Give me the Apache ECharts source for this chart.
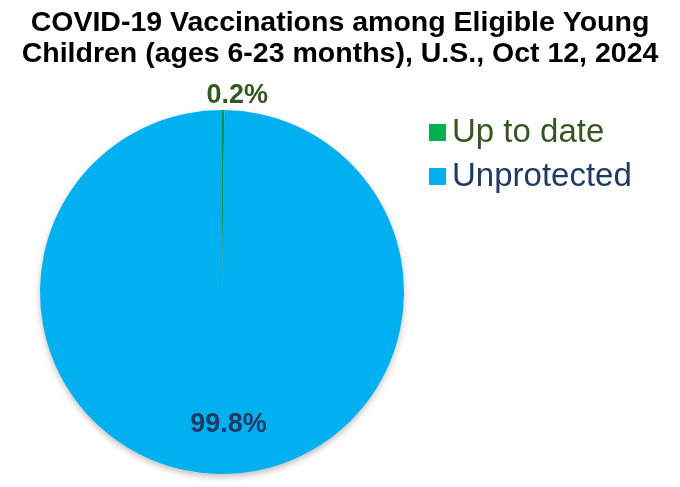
<!DOCTYPE html>
<html><head><meta charset="utf-8">
<script src="https://cdn.jsdelivr.net/npm/echarts@6/dist/echarts.min.js"></script>
<style>html,body{margin:0;padding:0;background:#fff}#c{width:680px;height:487px}</style>
</head><body><div id="c"></div>
<script>
var titleLines = ['COVID-19 Vaccinations among Eligible Young', 'Children (ages 6-23 months), U.S., Oct 12, 2024'];
var categories = ['Up to date', 'Unprotected'];
var values = [0.2, 99.8];
var sliceColors = ['#00B050', '#00B0F0'];
var textColors = ['#375623', '#1F3B63'];

var chart = echarts.init(document.getElementById('c'));
chart.setOption({
  animation: false,
  title: {
    text: titleLines.join('\n'),
    left: 'center', top: 3,
    textStyle: { fontFamily: 'Liberation Sans, Arial', fontWeight: 'bold', fontSize: 28.5, lineHeight: 31, color: '#000' }
  },
  legend: {
    orient: 'vertical', left: 424, top: 110,
    itemWidth: 17, itemHeight: 17, itemGap: 9,
    icon: 'rect',
    data: categories.map(function (c, i) {
      return { name: c, textStyle: { color: textColors[i] } };
    }),
    textStyle: { fontFamily: 'Liberation Sans, Arial', fontSize: 33, lineHeight: 35, padding: [0, 0, 0, 1] }
  },
  series: [{
    type: 'pie',
    center: [222, 292], radius: 182,
    startAngle: 90, clockwise: true,
    itemStyle: { borderWidth: 0, shadowBlur: 6, shadowOffsetY: 3, shadowColor: 'rgba(0,0,0,0.25)' },
    labelLine: { show: false, length: 4, length2: 0 },
    emphasis: { disabled: true },
    data: categories.map(function (c, i) {
      return {
        name: c, value: values[i],
        itemStyle: { color: sliceColors[i] },
        label: {
          show: true,
          position: i === 0 ? 'outside' : 'inside',
          formatter: function (p) { return p.value.toFixed(1) + '%'; },
          fontFamily: 'Liberation Sans, Arial', fontWeight: 'bold',
          fontSize: 27, color: textColors[i]
        }
      };
    }),
    labelLayout: function (p) {
      if (p.dataIndex === 0) return { align: 'center', dx: 9, dy: -10 };
      return { dx: 7, dy: 39 };
    }
  }]
});
</script></body></html>
